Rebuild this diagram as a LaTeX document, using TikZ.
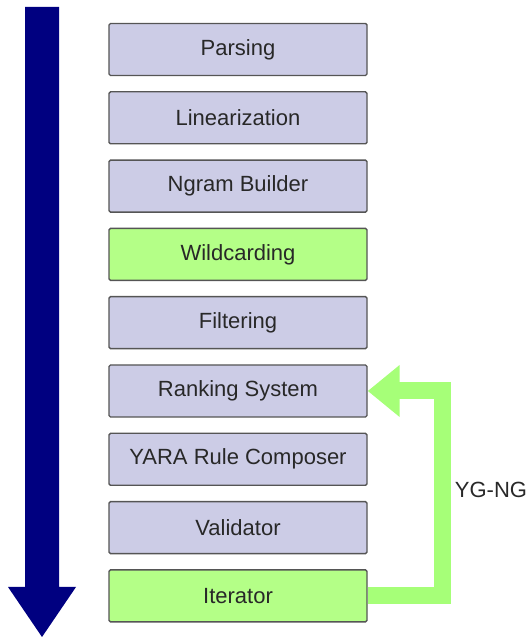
\documentclass[tikz,border=0pt]{standalone}
\usepackage{fontspec}
\setmainfont{Liberation Sans}
\usetikzlibrary{arrows.meta,calc}
\definecolor{boxfill}{RGB}{204,204,230}
\definecolor{greenfill}{RGB}{180,255,135}
\definecolor{greenarrow}{RGB}{166,255,120}
\definecolor{navyblue}{RGB}{0,0,128}
\definecolor{boxline}{RGB}{85,85,85}
\definecolor{txt}{RGB}{40,40,40}
\begin{document}
\begin{tikzpicture}[x=1pt,y=1pt,
  stage/.style={draw=boxline, line width=1.4pt, fill=boxfill, rounded corners=1.5pt,
    minimum width=258pt, minimum height=52pt, inner sep=0pt, text=txt,
    font=\fontsize{22}{26}\selectfont},
  hstage/.style={stage, fill=greenfill},
  feedback/.style={draw=greenarrow, line width=17pt, line join=miter,
    -{Triangle[length=32pt,width=50pt]}}
]
\useasboundingbox (0,0) rectangle (531,637);
% big navy arrow
\fill[navyblue] (25,630) -- (59,630) -- (59,50) -- (76,50) -- (42,0) -- (8,50) -- (25,50) -- cycle;
% stages
\node[stage]  (parse) at (238,587.5) {Parsing};
\node[stage]  (lin)   at (238,519.2) {Linearization};
\node[stage]  (ngram) at (238,450.9) {Ngram Builder};
\node[hstage] (wild)  at (238,382.6) {Wildcarding};
\node[stage]  (filt)  at (238,314.3) {Filtering};
\node[stage]  (rank)  at (238,246.0) {Ranking System};
\node[stage]  (yara)  at (238,177.7) {YARA Rule Composer};
\node[stage]  (valid) at (238,109.4) {Validator};
\node[hstage] (iter)  at (238,41.1)  {Iterator};
% feedback arrow
\coordinate (turn) at ($(iter.east)+(75,0)$);
\draw[feedback] (iter.east) -- (turn) |- (rank.east);
\node[text=txt, font=\fontsize{22}{26}\selectfont] (lbl) at (491,147) {YG-NG};
\end{tikzpicture}
\end{document}
